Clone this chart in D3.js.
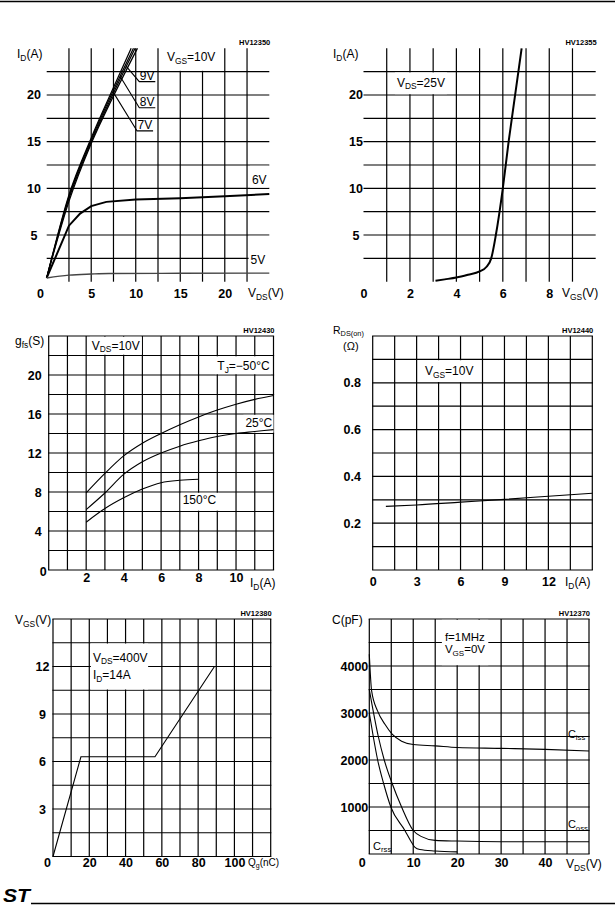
<!DOCTYPE html>
<html>
<head>
<meta charset="utf-8">
<script src="https://cdn.jsdelivr.net/npm/d3@7"></script>
<style>
  body { margin: 0; background: #fff; }
  svg { display: block; }
</style>
</head>
<body>
<div id="chart"></div>
<script>
// ---------- data ----------

// output characteristics: ID (A) vs VDS (V), one array per VGS
var outVgs10 = [[0, 0.4], [2.5, 9.3], [5, 15.4], [7.5, 20.8], [9.48, 25]];
var outVgs9 = [[0, 0.4], [2.5, 9.1], [5, 15.2], [7.5, 20.5], [9.74, 25]];
var outVgs8 = [[0, 0.4], [2.5, 8.9], [5, 15.0], [7.5, 20.2], [9.93, 25]];
var outVgs7 = [[0, 0.4], [2.5, 8.6], [5, 14.8], [7.5, 19.9], [10.19, 25]];
var outVgs6 = [[0, 0.4], [2.5, 6.0], [3.75, 7.3], [5, 8.1], [6.7, 8.55], [10, 8.8], [15, 8.95], [20, 9.15], [25, 9.4]];
var outVgs5 = [[0, 0.4], [2.5, 0.7], [5, 0.82], [7, 0.88], [15, 0.9], [25, 0.92]];
var outLabels = ["9V", "8V", "7V"];
var outLeaderFrom = [[8.91, 23.1], [8.24, 22.0], [7.5, 20.25]];
var outLeaderTo = [[10.4, 21.43], [10.4, 18.64], [10.15, 16.15]];

// transfer characteristics: ID (A) vs VGS (V), VDS = 25V
var transfer = [[3.1, 0.1], [3.5, 0.25], [4, 0.45], [4.5, 0.75], [5, 1.1], [5.3, 1.6], [5.5, 2.5],
                [5.7, 5.0], [6.0, 10], [6.25, 15], [6.53, 20], [6.81, 25]];

// transconductance: gfs (S) vs ID (A)
var gfsM50 = [[2, 7.9], [3, 9.9], [4, 11.7], [5, 13.0], [6, 14.0], [7, 14.9], [8, 15.7], [9, 16.4], [10, 17.0], [11, 17.5], [12, 17.9]];
var gfs25 = [[2, 6.2], [3, 7.9], [4, 9.8], [5, 11.1], [6, 12.0], [7, 12.7], [8, 13.25], [9, 13.7], [10, 14.0], [11, 14.2], [12, 14.4]];
var gfs150 = [[2, 4.9], [3, 6.3], [4, 7.4], [5, 8.3], [6, 8.95], [7, 9.2], [8, 9.3]];

// static drain-source on resistance: RDS(on) (ohm) vs ID (A)
var rdsOn = [[0.9, 0.272], [3, 0.278], [6, 0.29], [9, 0.302], [12, 0.315], [15, 0.328]];

// gate charge: VGS (V) vs Qg (nC)
var gateCharge = [[0, 0], [15.4, 6.3], [56.2, 6.3], [89, 12]];

// capacitance variations: C (pF) vs VDS (V)
var ciss = [[0, 4250], [0.53, 3470], [1.9, 3040], [3.56, 2760], [5.2, 2550], [7.35, 2400], [10, 2330],
            [15, 2300], [20, 2265], [30, 2248], [40, 2227], [50, 2190]];
var coss = [[0, 3500], [2.05, 2500], [3.4, 2000], [5.2, 1500], [7.35, 1000], [10, 500], [11.9, 370],
            [15, 290], [20, 275], [30, 262], [50, 262]];
var crss = [[0, 3000], [0.9, 2500], [1.9, 2000], [3.26, 1500], [4.9, 1000], [8.1, 500], [9.6, 250],
            [10.4, 140], [11.5, 95], [15, 65], [20, 45]];

// tick labels
var p1XTicks = [0, 5, 10, 15, 20], p1YTicks = [5, 10, 15, 20];
var p2XTicks = [0, 2, 4, 6, 8], p2YTicks = [5, 10, 15, 20];
var p3XTicks = [2, 4, 6, 8, 10], p3YTicks = [0, 4, 8, 12, 16, 20];
var p4XTicks = [0, 3, 6, 9, 12], p4YTicks = [0.2, 0.4, 0.6, 0.8];
var p5XTicks = [0, 20, 40, 60, 80, 100], p5YTicks = [3, 6, 9, 12];
var p6XTicks = [0, 10, 20, 30, 40], p6YTicks = [1000, 2000, 3000, 4000];

// ---------- drawing ----------
var FONT = "'Liberation Sans', Arial, Helvetica, sans-serif";
var W = 615, H = 908;

var svg = d3.select("#chart").append("svg")
    .attr("width", W).attr("height", H)
    .style("font-family", FONT);

// write "V_{GS}=10V" style strings as tspans with subscripts
function rich(sel, str, size) {
    var parts = str.split(/(_\{[^}]*\})/).filter(function(s) { return s.length; });
    var shift = size * 0.22, pending = 0;
    parts.forEach(function(s) {
        if (s.indexOf("_{") === 0) {
            sel.append("tspan").attr("font-size", size * 0.7).attr("dy", shift - pending)
                .text(s.slice(2, -1));
            pending = shift;
        } else {
            sel.append("tspan").attr("font-size", size).attr("dy", -pending).text(s);
            pending = 0;
        }
    });
}

function panel(p) {
    var x = d3.scaleLinear().domain(p.xDomain).range([p.left, p.right]);
    var y = d3.scaleLinear().domain(p.yDomain).range([p.bottom, p.top]);
    var g = svg.append("g");

    var nx = Math.round((p.xDomain[1] - p.xDomain[0]) / p.xStep);
    var ny = Math.round((p.yDomain[1] - p.yDomain[0]) / p.yStep);
    var xs = d3.range(nx + 1).map(function(i) { return p.xDomain[0] + i * p.xStep; });
    var ys = d3.range(ny + 1).map(function(i) { return p.yDomain[0] + i * p.yStep; });
    var rows = ys.map(function(d) { return y(d); }).sort(d3.ascending);
    // the two top charts are an open grid with no frame
    if (p.open) { xs = xs.slice(1, -1); ys = ys.slice(1, -1); }

    var grid = g.append("g").attr("stroke", "#000").attr("stroke-width", 1.2);
    grid.selectAll(null).data(xs).enter().append("line")
        .attr("x1", function(d) { return x(d); }).attr("x2", function(d) { return x(d); })
        .attr("y1", y(p.yDomain[0])).attr("y2", y(p.yDomain[1]));
    grid.selectAll(null).data(ys).enter().append("line")
        .attr("y1", function(d) { return y(d); }).attr("y2", function(d) { return y(d); })
        .attr("x1", x(p.xDomain[0]) - (p.open ? 0 : 0.6)).attr("x2", x(p.xDomain[1]) + (p.open ? 0 : 0.6));

    var blanks = g.append("g");
    var curves = g.append("g").attr("fill", "none").attr("stroke", "#000");
    var labels = g.append("g").attr("fill", "#000");

    // tick labels through d3 axes (no tick marks, no domain line)
    var xa = g.append("g").attr("transform", "translate(0," + p.bottom + ")")
        .call(d3.axisBottom(x).tickValues(p.xTicks).tickSize(0).tickPadding(p.xPad).tickFormat(p.xFmt || d3.format("d")));
    var ya = g.append("g").attr("transform", "translate(" + p.left + ",0)")
        .call(d3.axisLeft(y).tickValues(p.yTicks).tickSize(0).tickPadding(p.yPad).tickFormat(p.yFmt || d3.format("d")));
    [xa, ya].forEach(function(a) {
        a.select(".domain").remove();
        a.attr("font-family", FONT).attr("font-size", 12.5).attr("font-weight", "bold");
        a.selectAll("text").attr("fill", "#000");
    });
    xa.selectAll("text").attr("dx", function(d) { return d === 0 ? (p.zeroDx || 0) : 0; });
    if (p.yAnchor === "middle") ya.selectAll("text").attr("text-anchor", "middle");
    if (p.yZero) ya.selectAll("text").filter(function(d) { return d === 0; })
        .attr("dx", p.yZero[0]).attr("dy", p.yZero[1]);

    // drawing number, above the top right corner
    labels.append("text").attr("x", p.right + 1).attr("y", p.top - 3.5)
        .attr("text-anchor", "end").attr("font-size", 7.5).attr("font-weight", "bold")
        .text(p.code);

    return { x: x, y: y, g: g, rows: rows, open: p.open, blanks: blanks, curves: curves, labels: labels };
}

// free text; with blank set, the grid behind it is wiped in white
// (vertically out to the grid rows around it, sideways by blank[0] / blank[1] px)
function note(P, px, py, lines, size, blank, gap) {
    var grp = P.labels.append("g");
    lines.forEach(function(s, i) {
        var t = grp.append("text").attr("x", px).attr("y", py + i * (gap || 0)).attr("font-size", size);
        rich(t, s, size);
    });
    if (blank) {
        var b = grp.node().getBBox();
        var top = d3.max(P.rows.filter(function(r) { return r <= b.y + 1; }));
        var bot = d3.min(P.rows.filter(function(r) { return r >= b.y + b.height - 1; }));
        if (top === undefined) top = b.y - 1;
        if (bot === undefined) bot = b.y + b.height + 1;
        // open grid: no frame line at the top, so wipe the line ends too
        if (P.open && top === P.rows[0]) top -= 2;
        P.blanks.append("rect")
            .attr("x", b.x - blank[0]).attr("y", top + 0.8)
            .attr("width", b.width + blank[0] + blank[1]).attr("height", bot - top - 1.6)
            .attr("fill", "#fff");
    }
    return grp;
}

function plotLine(P, data, width, curve, color) {
    P.curves.append("path").datum(data)
        .attr("stroke-width", width)
        .attr("stroke", color || "#000")
        .attr("d", d3.line()
            .x(function(d) { return P.x(d[0]); })
            .y(function(d) { return P.y(d[1]); })
            .curve(curve || d3.curveMonotoneX));
}

// page rules
svg.append("line").attr("x1", 0).attr("x2", W).attr("y1", 1.5).attr("y2", 1.5)
    .attr("stroke", "#000").attr("stroke-width", 1.3);
svg.append("line").attr("x1", 31).attr("x2", W).attr("y1", 903.5).attr("y2", 903.5)
    .attr("stroke", "#000").attr("stroke-width", 1.3);
svg.append("text").attr("x", 3).attr("y", 902).attr("font-size", 19)
    .attr("font-weight", "bold").attr("font-style", "italic")
    .attr("textLength", 27).attr("lengthAdjust", "spacingAndGlyphs").text("ST");

// ---- 1: output characteristics ----
var P1 = panel({ left: 46.7, right: 269.3, top: 48.3, bottom: 281.7, xDomain: [0, 25], yDomain: [0, 25],
    xStep: 2.5, yStep: 2.5, open: true, xTicks: p1XTicks, yTicks: p1YTicks, xPad: 7, yPad: 12.7,
    yAnchor: "middle", zeroDx: -6.7, code: "HV12350" });
[outVgs10, outVgs9, outVgs8, outVgs7].forEach(function(s) { plotLine(P1, s, 1.25); });
plotLine(P1, outVgs6, 2, d3.curveLinear);
plotLine(P1, outVgs5, 1.4, d3.curveMonotoneX, "#444");
outLabels.forEach(function(s, i) {
    var a = outLeaderFrom[i], b = outLeaderTo[i];
    P1.labels.append("path").attr("fill", "none").attr("stroke", "#000").attr("stroke-width", 1.1)
        .attr("d", "M" + P1.x(a[0]) + "," + P1.y(a[1]) + "L" + P1.x(b[0]) + "," + P1.y(b[1]) +
                   "H" + (P1.x(b[0]) + 16));
    note(P1, P1.x(b[0]) + 0.5, P1.y(b[1]) - 1.5, [s], 12);
});
note(P1, P1.x(13.5), P1.y(23.6), ["V_{GS}=10V"], 12, [2, 2]);
note(P1, P1.x(23.05), P1.y(10.45), ["6V"], 12, [2, 2]);
note(P1, P1.x(22.9), P1.y(1.9), ["5V"], 12, [2, 5]);
note(P1, 17, 58.3, ["I_{D}(A)"], 12);
note(P1, 248, 297, ["V_{DS}(V)"], 12);

// ---- 2: transfer characteristics ----
var P2 = panel({ left: 363.5, right: 595.7, top: 48.3, bottom: 281.7, xDomain: [0, 10], yDomain: [0, 25],
    xStep: 1, yStep: 2.5, open: true, xTicks: p2XTicks, yTicks: p2YTicks, xPad: 7, yPad: 7.5,
    yAnchor: "middle", zeroDx: 0, code: "HV12355" });
plotLine(P2, transfer, 2);
note(P2, P2.x(1.44), P2.y(20.9), ["V_{DS}=25V"], 12, [2, 2]);
note(P2, 333, 58.3, ["I_{D}(A)"], 12);
note(P2, 562, 297, ["V_{GS}(V)"], 12);

// ---- 3: transconductance ----
var P3 = panel({ left: 48.7, right: 273.5, top: 336, bottom: 570, xDomain: [0, 12], yDomain: [0, 24],
    xStep: 1, yStep: 2, xTicks: p3XTicks, yTicks: p3YTicks, xPad: 3.5, yPad: 7,
    yZero: [5, "0.4em"], code: "HV12430" });
plotLine(P3, gfsM50, 1.1);
plotLine(P3, gfs25, 1.1);
plotLine(P3, gfs150, 1.1);
note(P3, P3.x(2.3), P3.y(22.6), ["V_{DS}=10V"], 12, [2, 2]);
note(P3, P3.x(9.0), P3.y(20.5), ["T_{J}=\u221250\u00b0C"], 12, [2, 1]);
note(P3, P3.x(10.5), P3.y(14.7), ["25\u00b0C"], 12, [2, 1]);
note(P3, P3.x(7.15), P3.y(6.77), ["150\u00b0C"], 12, [2, 2]);
note(P3, 15, 345, ["g_{fs}(S)"], 12);
note(P3, 250, 587, ["I_{D}(A)"], 12);

// ---- 4: on resistance ----
var P4 = panel({ left: 372.7, right: 592.3, top: 336, bottom: 570, xDomain: [0, 15], yDomain: [0, 1],
    xStep: 1.5, yStep: 0.1, xTicks: p4XTicks, yTicks: p4YTicks, xPad: 7.5, yPad: 11.7,
    yFmt: d3.format(".1f"), code: "HV12440" });
plotLine(P4, rdsOn, 1.1);
note(P4, P4.x(3.57), P4.y(0.833), ["V_{GS}=10V"], 12, [2, 2]);
note(P4, 333, 334, ["R_{DS(on)}"], 10.5);
note(P4, 343, 349.5, ["(\u03a9)"], 11);
note(P4, 565, 586, ["I_{D}(A)"], 12);

// ---- 5: gate charge ----
var P5 = panel({ left: 53, right: 270.7, top: 619, bottom: 856.5, xDomain: [0, 120], yDomain: [0, 15],
    xStep: 10, yStep: 1.5, xTicks: p5XTicks, yTicks: p5YTicks, xPad: 2, yPad: 10.5,
    yAnchor: "middle", zeroDx: -6, code: "HV12380" });
plotLine(P5, gateCharge, 1.1, d3.curveLinear);
note(P5, P5.x(22), P5.y(12.3), ["V_{DS}=400V", "I_{D}=14A"], 12, [2, 0.5], 17.5);
note(P5, 15, 624, ["V_{GS}(V)"], 12);
note(P5, 248, 866, ["Q_{g}(nC)"], 10);

// ---- 6: capacitance ----
var P6 = panel({ left: 369.3, right: 589, top: 619, bottom: 854, xDomain: [0, 50], yDomain: [0, 5000],
    xStep: 5, yStep: 500, xTicks: p6XTicks, yTicks: p6YTicks, xPad: 4.5, yPad: 1,
    zeroDx: -7.6, code: "HV12370" });
plotLine(P6, ciss, 1.1);
plotLine(P6, coss, 1.1);
plotLine(P6, crss, 1.1);
note(P6, P6.x(17.2), P6.y(4532), ["f=1MHz", "V_{GS}=0V"], 11.5, [3, 3], 12.5);
note(P6, P6.x(45.2), P6.y(2475), ["C_{iss}"], 11);
note(P6, P6.x(45.2), P6.y(547), ["C_{oss}"], 11);
note(P6, P6.x(0.85), P6.y(85), ["C_{rss}"], 11);
note(P6, 332, 624, ["C(pF)"], 12);
note(P6, 566, 868, ["V_{DS}(V)"], 12);
</script>
</body>
</html>
